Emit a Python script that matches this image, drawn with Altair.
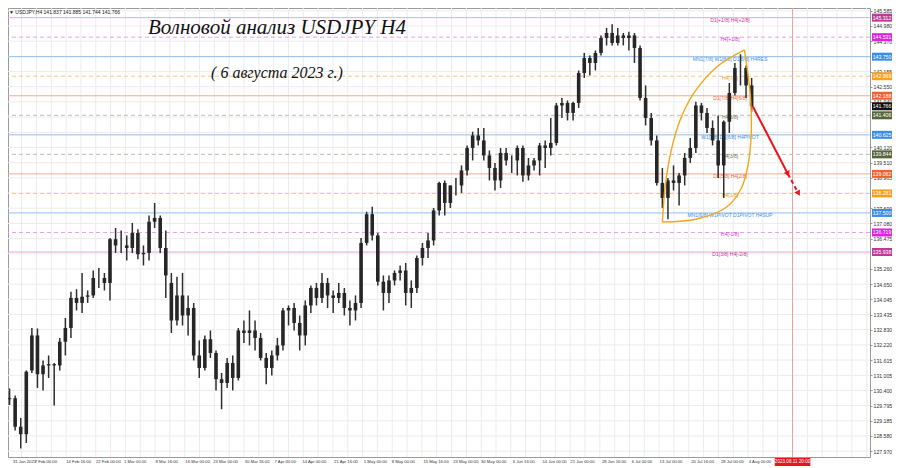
import numpy as np
import pandas as pd
import altair as alt

# ---------------- data (daily OHLC, 31 Jan 2023 .. 4 Aug 2023, trading days) ----------------
opens = [130.05, 130.09, 128.95, 128.65,
         131.20, 132.60, 131.05, 131.40, 131.45,
         131.40, 132.35, 132.90, 134.10, 133.90,
         134.15, 134.20, 134.90, 134.90, 134.70,
         136.45, 136.20, 136.20, 136.10, 136.70,
         135.85, 135.90, 137.15, 137.30, 136.10,
         134.70, 133.20, 134.20, 133.40, 133.70,
         131.80, 131.30, 132.45, 131.90, 130.85,
         130.70, 131.50, 130.90, 132.80, 132.70,
         132.80, 132.50, 131.70, 131.30, 131.80,
         132.20, 133.60, 133.70, 133.10, 132.60,
         133.80, 134.50, 134.10, 134.70, 134.20,
         134.10, 134.30, 133.70, 133.60, 133.90,
         136.30, 137.45, 136.60, 134.75, 134.30,
         134.80, 135.10, 135.20, 134.30, 134.50,
         135.70, 136.10, 136.40, 137.60, 138.70,
         137.90, 138.60, 138.60, 139.20, 140.10,
         140.60, 140.40, 139.80, 139.30, 138.80,
         139.90, 139.60, 139.60, 140.10, 139.00,
         139.40, 139.60, 140.20, 140.10, 140.30,
         141.80, 141.90, 141.50, 141.90, 143.10,
         143.70, 143.50, 143.90, 144.50, 144.70,
         144.30, 144.60, 144.50, 144.60, 144.10,
         142.10, 141.30, 140.40, 138.70, 138.10,
         138.80, 138.70, 139.00, 139.70, 140.10,
         141.80, 141.50, 140.90, 140.40, 139.40,
         141.15, 142.30, 143.30, 143.30, 142.60]
highs = [130.48, 130.20, 129.30, 131.20,
         132.90, 132.88, 131.60, 131.80, 131.50,
         132.50, 133.30, 134.35, 134.45, 135.10,
         134.40, 135.20, 135.30, 135.10, 136.50,
         136.90, 136.80, 136.60, 137.10, 136.85,
         136.20, 137.40, 137.90, 137.40, 136.80,
         135.10, 134.95, 135.10, 134.20, 133.90,
         132.40, 132.60, 132.80, 132.00, 131.10,
         131.70, 131.80, 132.90, 133.20, 133.60,
         133.20, 132.70, 131.90, 132.00, 132.50,
         133.70, 133.80, 133.90, 133.40, 134.00,
         134.60, 134.70, 135.10, 134.90, 134.40,
         134.70, 134.50, 134.00, 134.20, 136.50,
         137.55, 137.75, 136.70, 135.00, 135.00,
         135.20, 135.40, 135.50, 134.80, 135.80,
         136.30, 136.70, 137.70, 138.75, 138.80,
         138.60, 138.90, 139.40, 140.20, 140.75,
         140.90, 140.90, 140.00, 139.50, 140.10,
         140.10, 139.80, 140.20, 140.20, 139.70,
         139.70, 140.30, 140.40, 141.30, 141.90,
         142.10, 142.00, 141.95, 143.20, 143.90,
         143.80, 144.00, 144.60, 144.90, 145.05,
         144.90, 144.70, 144.75, 144.70, 144.20,
         142.60, 141.50, 140.60, 139.30, 138.90,
         139.40, 139.10, 139.90, 140.50, 141.95,
         141.90, 141.70, 141.20, 141.40, 141.20,
         142.70, 143.50, 143.85, 143.40, 142.90]
lows = [129.82, 128.80, 128.08, 128.30,
        131.10, 130.50, 130.40, 130.90, 129.80,
        131.20, 131.80, 132.50, 133.60, 133.50,
        133.90, 134.10, 134.50, 134.40, 134.00,
        135.90, 135.90, 135.60, 135.90, 135.65,
        135.40, 135.60, 136.90, 135.90, 134.10,
        132.70, 133.00, 133.00, 132.60, 131.60,
        130.90, 131.20, 131.70, 130.40, 129.65,
        130.50, 130.40, 130.80, 132.30, 132.20,
        132.00, 131.60, 130.65, 131.00, 131.60,
        132.00, 133.00, 132.80, 132.00, 132.20,
        133.50, 133.80, 133.90, 133.70, 133.50,
        133.90, 133.40, 133.00, 133.20, 133.70,
        136.20, 136.40, 134.60, 133.60, 133.90,
        134.60, 134.80, 133.80, 133.70, 134.30,
        135.40, 135.70, 136.20, 137.40, 137.40,
        137.70, 138.20, 138.30, 139.00, 139.60,
        140.20, 139.60, 138.80, 138.40, 138.50,
        139.40, 139.10, 139.00, 138.75, 138.80,
        139.20, 139.00, 139.30, 139.80, 140.20,
        141.30, 141.20, 141.20, 141.70, 142.90,
        143.00, 143.20, 143.80, 144.20, 144.20,
        144.20, 144.20, 144.00, 143.50, 142.00,
        141.00, 140.20, 138.60, 137.70, 137.25,
        138.40, 137.80, 138.60, 139.50, 139.90,
        141.20, 140.70, 140.20, 138.90, 138.10,
        140.70, 142.20, 142.60, 142.10, 141.55]
closes = [130.09, 128.95, 128.65, 131.15,
          132.60, 131.05, 131.40, 131.45, 131.40,
          132.35, 132.90, 134.10, 133.90, 134.15,
          134.20, 134.90, 134.90, 134.70, 136.45,
          136.20, 136.20, 136.10, 136.70, 135.85,
          135.90, 137.15, 137.30, 136.10, 135.00,
          133.20, 134.20, 133.40, 133.70, 131.80,
          131.30, 132.45, 131.90, 130.85, 130.70,
          131.50, 130.90, 132.80, 132.70, 132.80,
          132.50, 131.70, 131.30, 131.80, 132.20,
          133.60, 133.70, 133.10, 132.60, 133.80,
          134.50, 134.10, 134.70, 134.20, 134.10,
          134.30, 133.70, 133.60, 133.90, 136.30,
          137.45, 136.60, 134.75, 134.30, 134.80,
          135.10, 135.20, 134.30, 134.50, 135.70,
          136.10, 136.40, 137.60, 138.70, 137.90,
          138.60, 138.60, 139.20, 140.10, 140.60,
          140.40, 139.80, 139.30, 138.80, 139.90,
          139.60, 139.60, 140.10, 139.00, 139.40,
          139.60, 140.20, 140.10, 140.30, 141.80,
          141.90, 141.50, 141.90, 143.10, 143.70,
          143.50, 143.90, 144.50, 144.70, 144.30,
          144.60, 144.50, 144.60, 144.10, 142.10,
          141.30, 140.40, 138.70, 138.10, 138.80,
          138.70, 139.00, 139.70, 140.10, 141.80,
          141.50, 140.90, 140.40, 139.40, 141.15,
          142.30, 143.30, 143.30, 142.60, 141.77]

# Murrey-math levels drawn on the chart
level_prices = [145.312, 144.531, 143.750, 142.969, 142.188, 141.406, 140.625,
                139.844, 139.062, 138.281, 137.500, 136.719, 135.938]
level_texts = ["D1[+1/8] H4[+2/8]", "H4[+1/8]", "MN1[7/8] W1[8/8] D1[8/8] H4RES",
               "H4[7/8]", "D1[7/8] H4[6/8]", "H4[5/8]", "W1[7/8] D1[6/8] H4PIVOT",
               "H4[3/8]", "D1[5/8] H4[2/8]", "H4[1/8]", "MN1[6/8] W1PIVOT D1PIVOT H4SUP",
               "H4[-1/8]", "D1[3/8] H4[-2/8]"]
level_dashed = [False, True, False, True, False, True, False, True, False, True, False, True, False]
level_box_colors = ["#C0399A", "#E020E0", "#3A8EE6", "#F5A020", "#F06030", "#56653A", "#3A8EE6",
                    "#56653A", "#F06030", "#F5A020", "#3A8EE6", "#E020E0", "#C0399A"]
level_line_colors = ["#E6AAD2", "#E8A0E8", "#92BEEC", "#F3C780", "#F2AC92", "#BDBDB2", "#92BEEC",
                     "#BDBDB2", "#F2AC92", "#F3C780", "#92BEEC", "#E8A0E8", "#E6AAD2"]
level_text_colors = ["#C4359A", "#D530D5", "#3A8EE6", "#E89A2A", "#E8673A", "#70705A", "#3A8EE6",
                     "#70705A", "#E8673A", "#E89A2A", "#3A8EE6", "#D530D5", "#C4359A"]

current_price = 141.766
header_text = "▼ USDJPY,H4  141.837 141.885 141.744 141.766"

price_ticks = [145.585, 144.980, 144.370, 143.765, 143.155, 142.550, 141.940, 141.335,
               140.725, 140.120, 139.510, 138.905, 138.295, 137.690, 137.080, 136.475,
               135.865, 135.260, 134.650, 134.045, 133.435, 132.830, 132.220, 131.615,
               131.005, 130.400, 129.795, 129.185, 128.580, 127.970]

time_labels = ["31 Jan 2023", "7 Feb 00:00", "14 Feb 16:00", "22 Feb 00:00", "1 Mar 00:00",
               "8 Mar 16:00", "16 Mar 00:00", "23 Mar 00:00", "30 Mar 16:00", "7 Apr 00:00",
               "14 Apr 00:00", "21 Apr 16:00", "1 May 00:00", "8 May 00:00", "15 May 16:00",
               "23 May 00:00", "30 May 00:00", "6 Jun 16:00", "14 Jun 00:00", "21 Jun 00:00",
               "28 Jun 16:00", "6 Jul 00:00", "13 Jul 00:00", "20 Jul 16:00", "28 Jul 00:00",
               "4 Aug 00:00"]
time_stamps = ["2023-01-31 00:00", "2023-02-07 00:00", "2023-02-14 16:00", "2023-02-22 00:00",
               "2023-03-01 00:00", "2023-03-08 16:00", "2023-03-16 00:00", "2023-03-23 00:00",
               "2023-03-30 16:00", "2023-04-07 00:00", "2023-04-14 00:00", "2023-04-21 16:00",
               "2023-05-01 00:00", "2023-05-08 00:00", "2023-05-15 16:00", "2023-05-23 00:00",
               "2023-05-30 00:00", "2023-06-06 16:00", "2023-06-14 00:00", "2023-06-21 00:00",
               "2023-06-28 16:00", "2023-07-06 00:00", "2023-07-13 00:00", "2023-07-20 16:00",
               "2023-07-28 00:00", "2023-08-04 00:00"]

future_line_stamp = "2023-08-11 20:00"
future_line_label = "2023.08.11 20:00"

# forecast arrow (day index, price)
arrow_days = [133.7, 140.0, 141.9]
arrow_prices = [141.77, 139.06, 138.28]

# wave "leaf" outline
arc_left_days = [117.50, 118.04, 119.10, 120.69, 123.17, 127.25, 132.21]
arc_left_prices = [137.14, 138.62, 140.02, 141.22, 142.30, 143.34, 144.02]
arc_right_days = [117.50, 123.70, 129.02, 131.68, 132.92, 133.45, 133.27, 132.21]
arc_right_prices = [137.14, 137.26, 137.74, 138.50, 139.50, 140.82, 142.22, 144.02]

title_text = "Волновой анализ USDJPY H4"
subtitle_text = "( 6 августа 2023 г.)"

# ---------------- geometry ----------------
PX_PER_DAY = 5.645
X0 = 1.7            # pixel of 31 Jan 00:00 in the original
PX_PER_YEN = 25.0
W, H = 862, 449
X_MIN = (8 - X0) / PX_PER_DAY
X_MAX = X_MIN + W / PX_PER_DAY
Y_MAX = 145.698
Y_MIN = Y_MAX - H / PX_PER_YEN

start = np.datetime64("2023-01-31")


def day_pos(stamp):
    ts = pd.Timestamp(stamp)
    d = np.busday_count(start, np.datetime64(ts.date()))
    return d + ts.hour / 24.0


dates = pd.bdate_range("2023-01-31", "2023-08-04")
candles = pd.DataFrame({
    "d": np.arange(len(dates)) + 0.5,
    "open": opens, "high": highs, "low": lows, "close": closes,
})

# price labels that sit fully under a coloured price box are hidden (as in the terminal)
box_prices = level_prices + [current_price]
visible_ticks = [t for t in price_ticks
                 if min(abs(t - b) for b in box_prices) * PX_PER_YEN > 3.0]

xs = alt.Scale(domain=[X_MIN, X_MAX], nice=False, zero=False)
ys = alt.Scale(domain=[Y_MIN, Y_MAX], nice=False, zero=False)
yaxis = alt.Axis(orient="right", values=visible_ticks, format=".3f", labelFontSize=5.2,
                 labelFont="Liberation Sans", labelColor="#333333", tickSize=2,
                 tickColor="#999999", labelPadding=1, domain=False, grid=False,
                 title=None, labelFlush=False, labelOverlap=False)


def X(field):
    return alt.X(field, scale=xs, axis=None, title=None)


def Y(field):
    return alt.Y(field, scale=ys, axis=yaxis, title=None)


# grid: horizontal at every price tick, vertical every 15 px (as in the terminal)
hgrid = alt.Chart(pd.DataFrame({"p": price_ticks})).mark_rule(color="#ececec", strokeWidth=1).encode(
    y=Y("p:Q"))
grid_df = pd.DataFrame({"d": np.arange(1, 59) * 15 / PX_PER_DAY})
vgrid = alt.Chart(grid_df).mark_rule(color="#ececec", strokeWidth=1).encode(x=X("d:Q"))

# levels
lv = pd.DataFrame({"p": level_prices, "txt": level_texts, "dash": level_dashed,
                   "lc": level_line_colors, "tc": level_text_colors, "bc": level_box_colors})
solid_lv = alt.Chart(lv[~lv["dash"]]).mark_rule(strokeWidth=1).encode(
    y=Y("p:Q"), color=alt.Color("lc:N", scale=None))
dash_lv = alt.Chart(lv[lv["dash"]]).mark_rule(strokeWidth=1, strokeDash=[4, 3]).encode(
    y=Y("p:Q"), color=alt.Color("lc:N", scale=None))
lv_text = alt.Chart(lv).mark_text(fontSize=5, font="Liberation Sans", align="center",
                                  baseline="middle", dy=2).encode(
    x=alt.value(722), y=Y("p:Q"), text="txt:N", color=alt.Color("tc:N", scale=None))

# future date line
fut_d = day_pos("2023-08-04 00:00") + (pd.Timestamp(future_line_stamp) - pd.Timestamp("2023-08-04")).total_seconds() / 86400
fut = pd.DataFrame({"d": [fut_d], "lab": [future_line_label],
                    "d1": [fut_d - 18 / PX_PER_DAY], "d2": [fut_d + 18 / PX_PER_DAY]})
fut_rule = alt.Chart(fut).mark_rule(color="#E8A0A0", strokeWidth=1).encode(x=X("d:Q"))
fut_box = alt.Chart(fut).mark_rect(color="#E8161C").encode(
    x=X("d1:Q"), x2="d2:Q", y=alt.value(H + 1), y2=alt.value(H + 9))
fut_txt = alt.Chart(fut).mark_text(color="white", fontSize=4.6, font="Liberation Sans",
                                   baseline="middle").encode(
    x=X("d:Q"), y=alt.value(H + 5), text="lab:N")

# candles
wick = alt.Chart(candles).mark_rule(color="#2e2e2e", strokeWidth=1.5).encode(
    x=X("d:Q"), y=Y("low:Q"), y2="high:Q")
body = alt.Chart(candles).mark_bar(color="#262626", width=3.6).encode(
    x=X("d:Q"), y=Y("open:Q"), y2="close:Q")

# arcs
arcL = pd.DataFrame({"d": arc_left_days, "p": arc_left_prices, "i": range(len(arc_left_days))})
arcR = pd.DataFrame({"d": arc_right_days, "p": arc_right_prices, "i": range(len(arc_right_days))})
arc_l = alt.Chart(arcL).mark_line(color="#F0A818", strokeWidth=1.4, interpolate="catmull-rom").encode(
    x=X("d:Q"), y=Y("p:Q"), order="i:Q")
arc_r = alt.Chart(arcR).mark_line(color="#F0A818", strokeWidth=1.4, interpolate="catmull-rom").encode(
    x=X("d:Q"), y=Y("p:Q"), order="i:Q")

# arrow
seg1 = pd.DataFrame({"d": arrow_days[:2], "p": arrow_prices[:2], "i": [0, 1]})
seg2 = pd.DataFrame({"d": arrow_days[1:], "p": arrow_prices[1:], "i": [0, 1]})
arr1 = alt.Chart(seg1).mark_line(color="#E8161C", strokeWidth=2).encode(
    x=X("d:Q"), y=Y("p:Q"), order="i:Q")
arr2 = alt.Chart(seg2).mark_line(color="#E8161C", strokeWidth=2, strokeDash=[4, 3]).encode(
    x=X("d:Q"), y=Y("p:Q"), order="i:Q")
heads = []
for k in (1, 2):
    dx = (arrow_days[k] - arrow_days[k - 1]) * PX_PER_DAY
    dy = -(arrow_prices[k] - arrow_prices[k - 1]) * PX_PER_YEN
    heads.append({"d": arrow_days[k], "p": arrow_prices[k],
                  "ang": float(np.degrees(np.arctan2(dx, -dy)) % 360)})
head_df = pd.DataFrame(heads)
arr_head = alt.Chart(head_df).mark_point(shape="triangle-up", filled=True, size=40,
                                         color="#E8161C", opacity=1).encode(
    x=X("d:Q"), y=Y("p:Q"), angle=alt.Angle("ang:Q", scale=None))

# right-hand price boxes
boxes = pd.DataFrame({"p": box_prices,
                      "bc": level_box_colors + ["#111111"]})
boxes["lab"] = boxes["p"].map(lambda v: f"{v:.3f}")
boxes["top"] = boxes["p"] + 4.0 / PX_PER_YEN
boxes["bot"] = boxes["p"] - 4.0 / PX_PER_YEN
box_rect = alt.Chart(boxes).mark_rect().encode(
    x=alt.value(W + 2), x2=alt.value(W + 22), y=Y("top:Q"), y2="bot:Q",
    color=alt.Color("bc:N", scale=None))
box_txt = alt.Chart(boxes).mark_text(color="white", fontSize=5.2, font="Liberation Sans",
                                     baseline="middle", align="center").encode(
    x=alt.value(W + 12), y=Y("p:Q"), text="lab:N")

# time axis labels
tl = pd.DataFrame({"lab": time_labels, "d": [max(day_pos(s), X_MIN) for s in time_stamps]})
t_txt = alt.Chart(tl).mark_text(fontSize=4.2, font="Liberation Sans", color="#333333",
                                align="left", baseline="middle").encode(
    x=X("d:Q"), y=alt.value(H + 5), text="lab:N")

# texts
hdr = alt.Chart(pd.DataFrame({"t": [header_text]})).mark_text(
    fontSize=5, font="Liberation Sans", color="#222222", align="left", baseline="middle").encode(
    x=alt.value(1), y=alt.value(4), text="t:N")
ttl = alt.Chart(pd.DataFrame({"t": [title_text]})).mark_text(
    fontSize=21, font="Liberation Serif", fontStyle="italic", color="#111111",
    align="center", baseline="middle").encode(x=alt.value(269), y=alt.value(20), text="t:N")
sub = alt.Chart(pd.DataFrame({"t": [subtitle_text]})).mark_text(
    fontSize=16, font="Liberation Serif", fontStyle="italic", color="#111111",
    align="center", baseline="middle").encode(x=alt.value(269), y=alt.value(65), text="t:N")

chart = alt.layer(
    hgrid, vgrid, solid_lv, dash_lv, fut_rule, lv_text, wick, body, arc_l, arc_r,
    arr1, arr2, arr_head, box_rect, box_txt, t_txt, fut_box, fut_txt, hdr, ttl, sub
).properties(
    width=W, height=H, background="white",
    autosize=alt.AutoSizeParams(type="none"),
    padding={"left": 0, "top": 0, "right": 22, "bottom": 10},
).configure_view(
    stroke="#9a9a9a", strokeWidth=1
)

chart.save("out.html", embed_options={"renderer": "svg", "actions": False})
